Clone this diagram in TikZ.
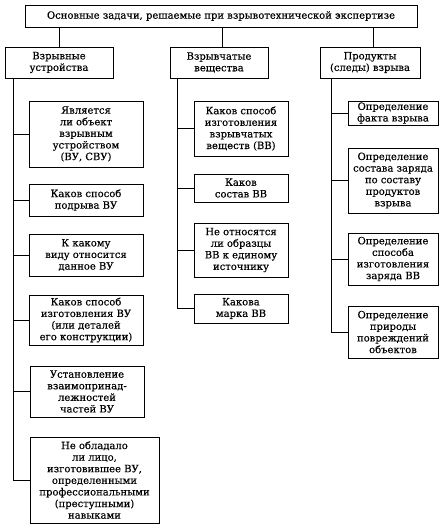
\documentclass[tikz,border=0pt]{standalone}
\usepackage{fontspec}
\setmainfont{DejaVu Serif}
\newfontfamily\scanfont[FakeBold=0.35]{DejaVu Serif}
\begin{document}
\begin{tikzpicture}[x=1pt,y=-1pt,
  box/.style={draw,line width=0.8pt,align=center,inner sep=1pt,font=\scanfont\fontsize{10}{11.6}\selectfont},
  link/.style={line width=0.8pt}]
\useasboundingbox (0,0) rectangle (444,531);
\node[box,minimum width=392pt,minimum height=22pt] (T) at (221,16) {Основные задачи, решаемые при взрывотехнической экспертизе};
\node[box,minimum width=108pt,minimum height=31pt] (A) at (59,62.5) {Взрывные\\устройства};
\node[box,minimum width=98pt,minimum height=31pt] (B) at (219,62.5) {Взрывчатые\\вещества};
\node[box,minimum width=100pt,minimum height=31pt] (C) at (370,62.5) {Продукты\\(следы) взрыва};
\draw[link] (A.north) -- (A.north |- T.south);
\draw[link] (B.north) ++(3,0) coordinate (Bt) -- (Bt |- T.south);
\draw[link] (C.north) ++(3,0) coordinate (Ct) -- (Ct |- T.south);
% left column
\node[box,minimum width=114pt,minimum height=66pt] (L1) at (86,134) {Является\\ли объект\\взрывным\\устройством\\(ВУ, СВУ)};
\node[box,minimum width=114pt,minimum height=32pt] (L2) at (86,200) {Каков способ\\подрыва ВУ};
\node[box,minimum width=114pt,minimum height=42pt] (L3) at (86,255) {К какому\\виду относится\\данное ВУ};
\node[box,minimum width=114pt,minimum height=50pt] (L4) at (86,320) {Каков способ\\изготовления ВУ\\(или деталей\\его конструкции)};
\node[box,minimum width=114pt,minimum height=51pt] (L5) at (87,391.5) {Установление\\взаимопринад-\\лежностей\\частей ВУ};
\node[box,minimum width=129pt,minimum height=86pt] (L6) at (94.5,480) {Не обладало\\ли лицо,\\изготовившее ВУ,\\определенными\\профессиональными\\(преступными)\\навыками};
\coordinate (Ltop) at (13,78);
\draw[link] (Ltop) -- (Ltop |- L6.west) -- (L6.west);
\foreach \n in {L1,L2,L3,L4,L5} \draw[link] (Ltop |- \n.west) -- (\n.west);
% middle column
\node[box,minimum width=94pt,minimum height=55pt] (M1) at (241,128.5) {Каков способ\\изготовления\\взрывчатых\\веществ (ВВ)};
\node[box,minimum width=94pt,minimum height=28pt] (M2) at (241,188) {Каков\\состав ВВ};
\node[box,minimum width=94pt,minimum height=54pt] (M3) at (241,250) {Не относятся\\ли образцы\\ВВ к единому\\источнику};
\node[box,minimum width=94pt,minimum height=29pt] (M4) at (241,308.5) {Какова\\марка ВВ};
\coordinate (Mtop) at (177,78);
\draw[link] (Mtop) -- (Mtop |- M4.west) -- (M4.west);
\foreach \n in {M1,M2,M3} \draw[link] (Mtop |- \n.west) -- (\n.west);
% right column
\node[box,minimum width=90pt,minimum height=24pt] (R1) at (393,113) {Определение\\факта взрыва};
\node[box,minimum width=90pt,minimum height=65pt] (R2) at (393,180.5) {Определение\\состава заряда\\по составу\\продуктов\\взрыва};
\node[box,minimum width=90pt,minimum height=52pt] (R3) at (393,259) {Определение\\способа\\изготовления\\заряда ВВ};
\node[box,minimum width=90pt,minimum height=52pt] (R4) at (393,332) {Определение\\природы\\повреждений\\объектов};
\coordinate (Rtop) at (331,78);
\draw[link] (Rtop) -- (Rtop |- R4.west) -- (R4.west);
\foreach \n in {R1,R2,R3} \draw[link] (Rtop |- \n.west) -- (\n.west);
\end{tikzpicture}
\end{document}
